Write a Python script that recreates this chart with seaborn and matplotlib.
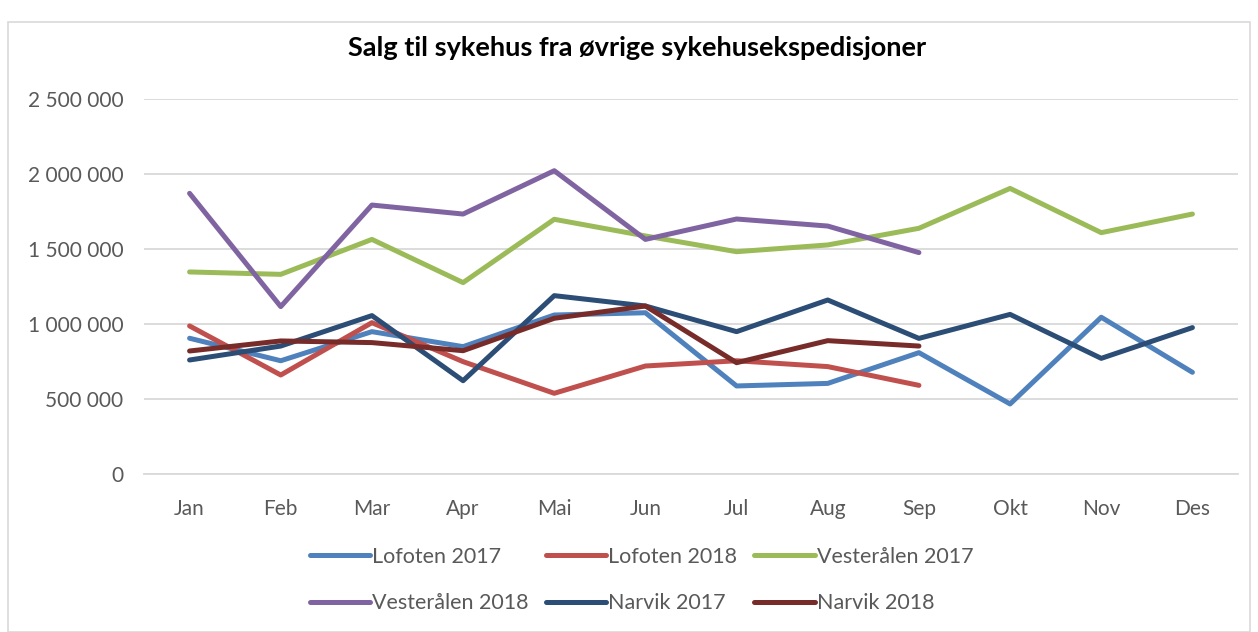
import numpy as np
import pandas as pd
import matplotlib
matplotlib.use("Agg")
import matplotlib.pyplot as plt
import matplotlib.ticker as mticker
from matplotlib.patches import Rectangle
import seaborn as sns

# === Data ===
months = ["Jan", "Feb", "Mar", "Apr", "Mai", "Jun", "Jul", "Aug", "Sep", "Okt", "Nov", "Des"]

lofoten_2017 = [905000, 755000, 949000, 849000, 1060000, 1075000, 587000, 604000, 809000, 467000, 1045000, 678000]
lofoten_2018 = [987000, 660000, 1009000, 749000, 538000, 720000, 755000, 716000, 591000, np.nan, np.nan, np.nan]
vesteralen_2017 = [1347000, 1331000, 1564000, 1276000, 1698000, 1587000, 1482000, 1527000, 1638000, 1904000, 1609000, 1733000]
vesteralen_2018 = [1871000, 1116000, 1793000, 1733000, 2022000, 1564000, 1700000, 1653000, 1476000, np.nan, np.nan, np.nan]
narvik_2017 = [760000, 853000, 1056000, 622000, 1189000, 1120000, 949000, 1160000, 904000, 1064000, 771000, 976000]
narvik_2018 = [820000, 887000, 876000, 822000, 1038000, 1120000, 742000, 889000, 853000, np.nan, np.nan, np.nan]

series = {
    "Lofoten 2017": lofoten_2017,
    "Lofoten 2018": lofoten_2018,
    "Vesterålen 2017": vesteralen_2017,
    "Vesterålen 2018": vesteralen_2018,
    "Narvik 2017": narvik_2017,
    "Narvik 2018": narvik_2018,
}
colors = ["#4F81BD", "#C0504D", "#9BBB59", "#8064A2", "#2C4D75", "#772C2A"]

# long format for seaborn
rows = []
for name, vals in series.items():
    for i, v in enumerate(vals):
        rows.append({"month": i, "value": v, "series": name})
df = pd.DataFrame(rows)

sns.set_style("white")
plt.rcParams["font.family"] = ["Lato", "DejaVu Sans"]

fig = plt.figure(figsize=(12.58, 6.32), dpi=100)
ax = fig.add_axes([144 / 1258, 1 - 474 / 632, (1238 - 144) / 1258, (474 - 99) / 632])

sns.lineplot(data=df, x="month", y="value", hue="series", palette=colors,
             linewidth=3.6, sort=False, ax=ax, legend=True)

# axes styling
ax.set_xlim(-0.5, 11.5)
ax.set_ylim(0, 2500000)
ax.set_yticks(np.arange(0, 2500001, 500000))
ax.yaxis.set_major_formatter(mticker.FuncFormatter(lambda v, p: f"{int(v):,}".replace(",", " ")))
ax.set_xticks(range(len(months)))
ax.set_xticklabels(months)
ax.set_xlabel("")
ax.set_ylabel("")
ax.grid(axis="y", color="#D9D9D9", linewidth=1.3)
ax.set_axisbelow(True)
for s in ["top", "right", "left"]:
    ax.spines[s].set_visible(False)
ax.spines["bottom"].set_color("#D9D9D9")
ax.spines["bottom"].set_linewidth(1.3)
ax.tick_params(axis="both", length=0, labelsize=15, labelcolor="#595959")
ax.tick_params(axis="y", pad=15)
ax.tick_params(axis="x", pad=18)

# legend below the plot, filled row by row like the reference
handles, labels = ax.get_legend_handles_labels()
ax.legend_.remove()
order = [0, 3, 1, 4, 2, 5]
fig.legend([handles[i] for i in order], [labels[i] for i in order],
           loc="center", bbox_to_anchor=(0.51, 1 - 580 / 632), ncol=3,
           frameon=False, fontsize=15.5, handlelength=2.8, handletextpad=0.1,
           columnspacing=0.8, labelspacing=1.25, labelcolor="#595959")

# title
fig.text(637 / 1258, 1 - 48 / 632, "Salg til sykehus fra øvrige sykehusekspedisjoner",
         ha="center", va="center", fontsize=19.5, fontweight="bold", color="black")

# chart border
fig.patches.append(Rectangle((8 / 1258, 0), 1242 / 1258, 1 - 22 / 632, transform=fig.transFigure,
                             fill=False, edgecolor="#D9D9D9", linewidth=1.2))

plt.savefig("out.png", dpi=100)
